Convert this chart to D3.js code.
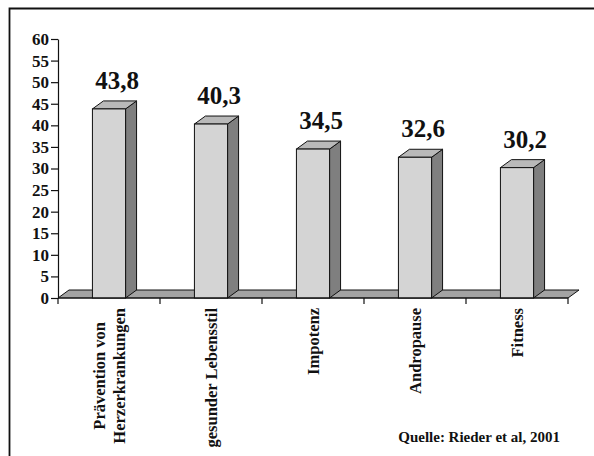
<!DOCTYPE html>
<html>
<head>
<meta charset="utf-8">
<script src="https://cdn.jsdelivr.net/npm/d3@7"></script>
<style>
  html, body { margin: 0; padding: 0; background: #fff; }
  svg { display: block; }
  text { font-family: "Liberation Serif", "Times New Roman", serif; font-weight: bold; fill: #111; }
</style>
</head>
<body>
<svg id="chart" width="594" height="456"></svg>
<script>
// Survey topics and shares (percent)
const categories = [
  ["Prävention von", "Herzerkrankungen"],
  ["gesunder Lebensstil"],
  ["Impotenz"],
  ["Andropause"],
  ["Fitness"]
];
const values = [43.8, 40.3, 34.5, 32.6, 30.2];
const valueLabels = ["43,8", "40,3", "34,5", "32,6", "30,2"];
const yTicks = [0, 5, 10, 15, 20, 25, 30, 35, 40, 45, 50, 55, 60];
const sourceNote = "Quelle: Rieder et al, 2001";

const svg = d3.select("#chart");

// frame (left and top edges)
svg.append("path")
  .attr("d", "M9.5,456 L9.5,8.5 L594,8.5")
  .attr("fill", "none").attr("stroke", "#111").attr("stroke-width", 1.8);

const keys = categories.map((c, i) => i);
const x = d3.scaleBand().domain(keys).range([58, 568]).padding(0);
const y = d3.scaleLinear().domain([0, 60]).range([298, 39]);

const depthX = 11, depthY = 8;
const barW = x.bandwidth() * 0.325;
const y0 = y(0);

// floor
const [fx0, fx1] = x.range();
svg.append("polygon")
  .attr("points", [[fx0, y0], [fx0 + depthX, y0 - depthY], [fx1 + depthX, y0 - depthY], [fx1, y0]].join(" "))
  .attr("fill", "#a3a3a3").attr("stroke", "#111").attr("stroke-width", 1);

// bars: front, top, side
const bars = svg.append("g").selectAll("g").data(values).join("g");
bars.each(function(v, i) {
  const g = d3.select(this);
  const cx = x(i) + x.bandwidth() / 2;
  const xa = cx - barW / 2, xb = cx + barW / 2;
  const yv = y(v);
  g.append("polygon")
    .attr("points", [[xb, yv], [xb + depthX, yv - depthY], [xb + depthX, y0 - depthY], [xb, y0]].join(" "))
    .attr("fill", "#7f7f7f").attr("stroke", "#111").attr("stroke-width", 1);
  g.append("polygon")
    .attr("points", [[xa, yv], [xa + depthX, yv - depthY], [xb + depthX, yv - depthY], [xb, yv]].join(" "))
    .attr("fill", "#b9b9b9").attr("stroke", "#111").attr("stroke-width", 1);
  g.append("rect")
    .attr("x", xa).attr("y", yv).attr("width", barW).attr("height", y0 - yv)
    .attr("fill", "#d4d4d4").attr("stroke", "#111").attr("stroke-width", 1);
  g.append("text")
    .attr("x", cx + 8).attr("y", yv - 20)
    .attr("text-anchor", "middle")
    .style("font-size", "25px")
    .text(valueLabels[i]);
});

// y axis
const yAxis = svg.append("g")
  .attr("transform", "translate(58,0)")
  .call(d3.axisLeft(y).tickValues(yTicks).tickSize(7).tickSizeOuter(0).tickPadding(2));
yAxis.select(".domain").attr("stroke", "#111").attr("stroke-width", 1.2);
yAxis.selectAll(".tick line").attr("stroke", "#111").attr("stroke-width", 1.2);
yAxis.selectAll(".tick text")
  .style("font-size", "17px").style("font-family", "Liberation Serif, serif").style("font-weight", "bold")
  .attr("fill", "#111");

// x axis baseline with ticks at category boundaries
svg.append("line")
  .attr("x1", fx0).attr("x2", fx1).attr("y1", y0).attr("y2", y0)
  .attr("stroke", "#111").attr("stroke-width", 1.2);
const bounds = keys.map(k => x(k)).concat([fx1]);
svg.append("g").selectAll("line").data(bounds).join("line")
  .attr("x1", d => d).attr("x2", d => d)
  .attr("y1", y0).attr("y2", y0 + 6)
  .attr("stroke", "#111").attr("stroke-width", 1.2);

// category labels, rotated; multi-line labels are centred line by line
const lineGap = 20;
const labels = svg.append("g").selectAll("text").data(categories).join("text")
  .attr("transform", (d, i) => {
    const cx = x(i) + x.bandwidth() / 2;
    return `translate(${cx},308) rotate(-90)`;
  })
  .attr("text-anchor", "middle")
  .style("font-size", "16.5px");
labels.each(function(lines) {
  const t = d3.select(this);
  const n = lines.length;
  const spans = lines.map((s, j) => t.append("tspan")
      .attr("y", (j - (n - 1) / 2) * lineGap + 6)
      .text(s));
  const maxW = d3.max(spans, sp => sp.node().getComputedTextLength());
  spans.forEach(sp => sp.attr("x", -maxW / 2));
});

// source note
svg.append("text")
  .attr("x", 560).attr("y", 442)
  .attr("text-anchor", "end")
  .style("font-size", "15px")
  .text(sourceNote);
</script>
</body>
</html>
